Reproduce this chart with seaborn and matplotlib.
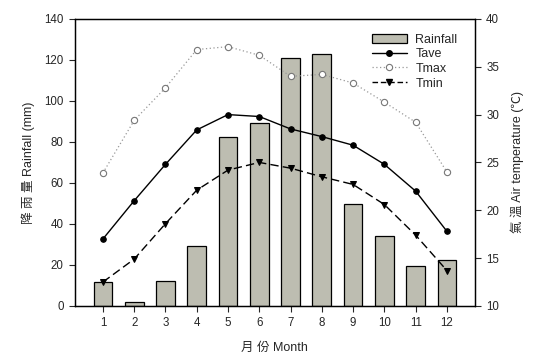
import matplotlib
matplotlib.use("Agg")
import matplotlib.pyplot as plt
import seaborn as sns
import pandas as pd
from matplotlib.patches import Patch
from matplotlib.lines import Line2D

months = [1, 2, 3, 4, 5, 6, 7, 8, 9, 10, 11, 12]
rainfall = [11.6, 1.9, 12.2, 29.0, 82.2, 89.4, 120.7, 122.7, 49.6, 34.0, 19.7, 22.3]
tave = [17.0, 21.0, 24.8, 28.4, 30.0, 29.8, 28.5, 27.7, 26.8, 24.8, 22.0, 17.8]
tmax = [23.9, 29.4, 32.8, 36.8, 37.1, 36.2, 34.0, 34.2, 33.3, 31.3, 29.2, 24.0]
tmin = [12.5, 14.9, 18.6, 22.1, 24.2, 25.0, 24.4, 23.5, 22.7, 20.6, 17.4, 13.7]

df = pd.DataFrame({"month": months, "rain": rainfall, "tave": tave, "tmax": tmax, "tmin": tmin})

sns.set_style("ticks")
plt.rcParams["font.family"] = ["Liberation Sans", "Noto Sans CJK TC"]

fig = plt.figure(figsize=(5.38, 3.57), dpi=100)
ax = fig.add_axes([0.139, 0.143, 0.744, 0.804])

bar_color = "#BDBDB1"
sns.barplot(data=df, x="month", y="rain", native_scale=True, width=0.6,
            color=bar_color, edgecolor="black", linewidth=0.9, saturation=1, ax=ax)

ax.set_xlim(0.1, 12.9)
ax.set_ylim(0, 140)
ax.set_yticks(range(0, 141, 20))
ax.set_xticks(months)
ax.set_xlabel("月 份 Month", fontsize=9, labelpad=9)
ax.set_ylabel("降 雨 量 Rainfall (mm)", fontsize=9, labelpad=7)

ax2 = ax.twinx()
sns.lineplot(data=df, x="month", y="tave", ax=ax2, color="black", lw=1.0,
             marker="o", markersize=4, markeredgecolor="black")
sns.lineplot(data=df, x="month", y="tmax", ax=ax2, color="#999999", lw=0.9,
             linestyle=(0, (1, 2)), marker="o", markersize=4.5,
             markerfacecolor="white", markeredgecolor="#777777", markeredgewidth=0.8)
sns.lineplot(data=df, x="month", y="tmin", ax=ax2, color="black", lw=1.0,
             linestyle=(0, (6, 3)), marker="v", markersize=4.5, markeredgecolor="black")
ax2.set_ylim(10, 40)
ax2.set_yticks(range(10, 41, 5))
ax2.set_xlim(0.1, 12.9)
ax2.set_ylabel("氣 溫 Air temperature (℃)", fontsize=9, labelpad=8)

for a in (ax, ax2):
    for s in a.spines.values():
        s.set_visible(True)
        s.set_linewidth(0.9)
        s.set_color("black")
    a.tick_params(labelsize=8.3, length=4, width=0.8, direction="out", pad=4)

handles = [
    Patch(facecolor=bar_color, edgecolor="black", linewidth=0.9),
    Line2D([], [], color="black", lw=1.0, marker="o", markersize=4),
    Line2D([], [], color="#999999", lw=0.9, linestyle=(0, (1, 2)), marker="o", markersize=4.5,
           markerfacecolor="white", markeredgecolor="#777777", markeredgewidth=0.8),
    Line2D([], [], color="black", lw=1.0, linestyle=(0, (4, 2)), marker="v", markersize=4.5),
]
ax2.legend(handles, ["Rainfall", "Tave", "Tmax", "Tmin"], loc="upper right",
           bbox_to_anchor=(0.975, 0.975), frameon=False, fontsize=9,
           handlelength=2.8, handleheight=0.8, handletextpad=0.7,
           labelspacing=0.2, borderaxespad=0.2)

fig.savefig("out.png", dpi=100)
